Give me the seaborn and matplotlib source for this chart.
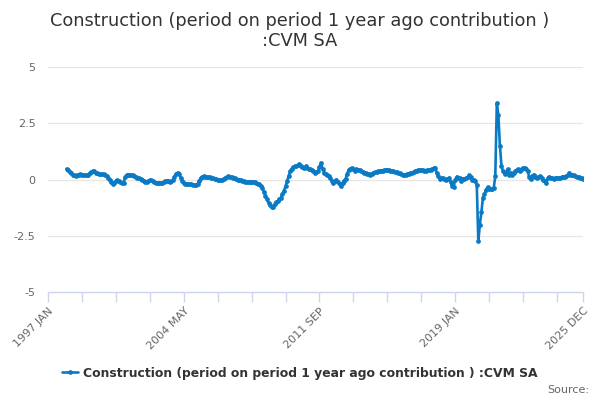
import numpy as np
import pandas as pd
import seaborn as sns
import matplotlib.pyplot as plt

# Construction contribution, monthly, 1998 JAN .. 2025 DEC
y1998 = [0.47, 0.42, 0.35, 0.27, 0.22, 0.18, 0.17, 0.20, 0.22, 0.24, 0.22, 0.20]
y1999 = [0.19, 0.18, 0.22, 0.28, 0.33, 0.37, 0.36, 0.31, 0.27, 0.25, 0.24, 0.23]
y2000 = [0.23, 0.22, 0.15, 0.06, 0.00, -0.10, -0.18, -0.14, -0.06, -0.03, -0.07, -0.12]
y2001 = [-0.15, -0.14, 0.10, 0.20, 0.22, 0.20, 0.18, 0.18, 0.15, 0.12, 0.08, 0.06]
y2002 = [0.03, -0.02, -0.08, -0.12, -0.12, -0.08, -0.04, -0.03, -0.07, -0.12, -0.15, -0.14]
y2003 = [-0.15, -0.16, -0.15, -0.12, -0.07, -0.05, -0.07, -0.10, -0.08, -0.02, 0.12, 0.25]
y2004 = [0.30, 0.25, 0.08, -0.05, -0.15, -0.19, -0.20, -0.21, -0.21, -0.22, -0.23, -0.24]
y2005 = [-0.25, -0.20, -0.05, 0.06, 0.12, 0.15, 0.13, 0.11, 0.10, 0.10, 0.08, 0.06]
y2006 = [0.04, 0.01, -0.02, -0.04, -0.03, 0.00, 0.04, 0.08, 0.11, 0.15, 0.13, 0.10]
y2007 = [0.08, 0.07, 0.04, 0.00, -0.03, -0.04, -0.06, -0.08, -0.10, -0.10, -0.09, -0.10]
y2008 = [-0.10, -0.10, -0.12, -0.15, -0.19, -0.22, -0.30, -0.37, -0.55, -0.72, -0.88, -1.04]
y2009 = [-1.15, -1.24, -1.20, -1.11, -1.02, -0.96, -0.88, -0.80, -0.65, -0.50, -0.30, -0.07]
y2010 = [0.15, 0.37, 0.48, 0.55, 0.58, 0.59, 0.63, 0.67, 0.62, 0.55, 0.52, 0.58]
y2011 = [0.52, 0.48, 0.46, 0.44, 0.38, 0.30, 0.33, 0.37, 0.55, 0.74, 0.48, 0.30]
y2012 = [0.25, 0.20, 0.15, 0.05, -0.05, -0.15, -0.08, 0.00, -0.10, -0.22, -0.30, -0.15]
y2013 = [-0.05, 0.04, 0.25, 0.44, 0.48, 0.52, 0.45, 0.40, 0.46, 0.42, 0.44, 0.38]
y2014 = [0.35, 0.30, 0.28, 0.25, 0.24, 0.22, 0.26, 0.30, 0.32, 0.34, 0.36, 0.38]
y2015 = [0.40, 0.40, 0.42, 0.43, 0.44, 0.42, 0.40, 0.38, 0.37, 0.35, 0.32, 0.30]
y2016 = [0.27, 0.23, 0.19, 0.20, 0.22, 0.23, 0.26, 0.28, 0.30, 0.34, 0.37, 0.40]
y2017 = [0.42, 0.43, 0.44, 0.42, 0.40, 0.40, 0.42, 0.44, 0.44, 0.48, 0.50, 0.52]
y2018 = [0.30, 0.15, 0.04, 0.05, 0.07, 0.02, -0.04, 0.03, 0.07, -0.10, -0.30, -0.35]
y2019 = [0.00, 0.12, 0.07, 0.05, -0.05, 0.03, 0.04, 0.07, 0.10, 0.18, 0.10, 0.00]
y2020 = [-0.02, -0.05, -0.25, -2.75, -2.00, -1.45, -0.80, -0.65, -0.45, -0.35, -0.40, -0.44]
y2021 = [-0.40, -0.38, 0.15, 3.38, 2.85, 1.50, 0.62, 0.37, 0.25, 0.30, 0.45, 0.22]
y2022 = [0.30, 0.22, 0.28, 0.37, 0.42, 0.45, 0.40, 0.48, 0.52, 0.50, 0.45, 0.37]
y2023 = [0.10, 0.03, 0.15, 0.22, 0.12, 0.07, 0.10, 0.15, 0.08, 0.00, -0.05, -0.15]
y2024 = [0.05, 0.12, 0.08, 0.05, 0.03, 0.06, 0.08, 0.07, 0.05, 0.10, 0.12, 0.10]
y2025 = [0.14, 0.18, 0.30, 0.22, 0.18, 0.18, 0.15, 0.12, 0.12, 0.08, 0.05, 0.03]

values = (y1998 + y1999 + y2000 + y2001 + y2002 + y2003 + y2004 + y2005 + y2006 + y2007
          + y2008 + y2009 + y2010 + y2011 + y2012 + y2013 + y2014 + y2015 + y2016
          + y2017 + y2018 + y2019 + y2020 + y2021 + y2022 + y2023 + y2024 + y2025)

series_name = "Construction (period on period 1 year ago contribution ) :CVM SA"
title = "Construction (period on period 1 year ago contribution )\n:CVM SA"
x_labels = ["1997 JAN", "2004 MAY", "2011 SEP", "2019 JAN", "2025 DEC"]
y_ticks = [-5, -2.5, 0, 2.5, 5]
y_labels = ["-5", "-2.5", "0", "2.5", "5"]

dates = pd.date_range("1998-01-01", periods=len(values), freq="MS")
start = pd.Timestamp("1997-01-01")
df = pd.DataFrame({"date": dates, "value": values})
df["m"] = (df["date"].dt.year - start.year) * 12 + df["date"].dt.month - 1

axis_end = (2025 - 1997) * 12 + 11
label_pos = [0, 88, 176, 264, axis_end]
tick_pos = [p for p in range(0, axis_end, 22) if p not in label_pos]

sns.set_style("white")
plt.rcParams['font.family'] = ['DejaVu Sans']

fig = plt.figure(figsize=(6, 4), dpi=100)
ax = fig.add_axes([0.08, 0.27, 0.892, 0.5625])

line_color = "#0a7ac4"
sns.lineplot(data=df, x="m", y="value", ax=ax, color=line_color, linewidth=1.9,
             marker="o", markersize=3.4, markeredgewidth=0, label=series_name)

ax.set_xlim(0, axis_end)
ax.set_ylim(-5, 5)
ax.set_yticks(y_ticks)
ax.set_yticklabels(y_labels)
for yv in y_ticks:
    if yv != -5:
        ax.axhline(yv, color="#e6e6e6", linewidth=0.9, zorder=0)

ax.set_xticks(label_pos)
ax.set_xticklabels(x_labels, rotation=45, ha="right", rotation_mode="anchor")
ax.set_xticks(tick_pos, minor=True)
ax.xaxis.set_tick_params(which="major", length=7, width=1, color="#ccd6eb",
                         labelsize=8, labelcolor="#666666", pad=3, bottom=True)
ax.xaxis.set_tick_params(which="minor", length=7, width=1, color="#ccd6eb", bottom=True)
ax.tick_params(axis="y", length=0, labelsize=8, labelcolor="#666666", pad=9)

for side in ["top", "right", "left"]:
    ax.spines[side].set_visible(False)
ax.spines["bottom"].set_color("#ccd6eb")
ax.spines["bottom"].set_linewidth(1)
ax.set_xlabel("")
ax.set_ylabel("")

fig.text(0.5, 0.97, title, ha="center", va="top", fontsize=12.8,
         color="#333333", linespacing=1.12)

ax.legend(loc="center", bbox_to_anchor=(0.5, 0.0675), bbox_transform=fig.transFigure,
          frameon=False, prop={"weight": "bold", "size": 8.9}, handlelength=1.3,
          handletextpad=0.4, labelcolor="#333333")

fig.text(0.982, 0.025, "Source:", ha="right", va="center", fontsize=8, color="#666666")

fig.savefig("out.png", dpi=100)
